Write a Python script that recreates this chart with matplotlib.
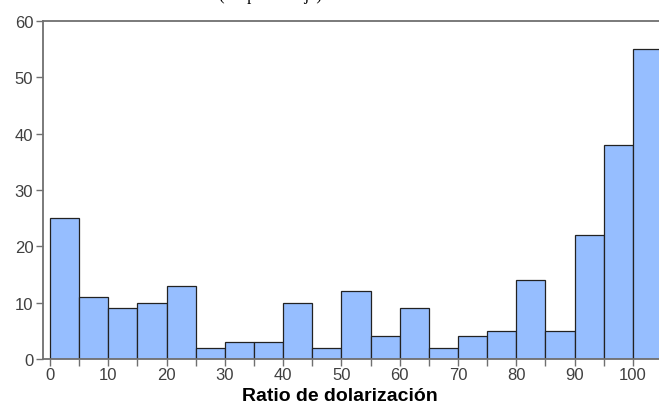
import matplotlib.pyplot as plt
import numpy as np

# limites de los intervalos (ancho 5) y frecuencias
edges = np.arange(0, 110, 5)
counts = [25, 11, 9, 10, 13, 2, 3, 3, 10, 2, 12, 4, 9, 2, 4, 5, 14, 5, 22, 38, 55]
xticks = [0, 10, 20, 30, 40, 50, 60, 70, 80, 90, 100]
yticks = [0, 10, 20, 30, 40, 50, 60]

plt.rcParams['font.family'] = ['Liberation Sans', 'DejaVu Sans']

fig = plt.figure(figsize=(6.59, 4.06), dpi=100)
ax = fig.add_axes([43/659, 46/406, 619/659, 338/406])

ax.bar(edges[:-1], counts, width=5, align='edge', color='#96BEFF',
       edgecolor='#222222', linewidth=0.9, zorder=2)

ax.set_xlim(-1.2, 105)
ax.set_ylim(0, 60)
ax.set_xticks(xticks)
ax.set_xticks(edges, minor=True)
ax.set_yticks(yticks)
ax.tick_params(axis='both', colors='#707070', labelcolor='#404040', labelsize=12,
               length=5, width=1, pad=2)
ax.tick_params(axis='x', which='minor', colors='#707070', length=5, width=1)
ax.tick_params(axis='x', pad=1)
for s in ['left', 'top', 'bottom']:
    ax.spines[s].set_color('#707070')
    ax.spines[s].set_linewidth(1.3)
ax.spines['right'].set_visible(False)

# etiqueta del eje x
fig.text(340/659, 5/406, 'Ratio de dolarización', fontsize=14, fontweight='bold',
         color='black', ha='center', va='baseline')

# titulo recortado por el borde superior (como en la imagen original)
fig.text(0.41, 0.999, '(En porcentaje)', family='Liberation Serif', fontsize=12,
         ha='center', va='baseline')

fig.savefig('out.png', dpi=100)
